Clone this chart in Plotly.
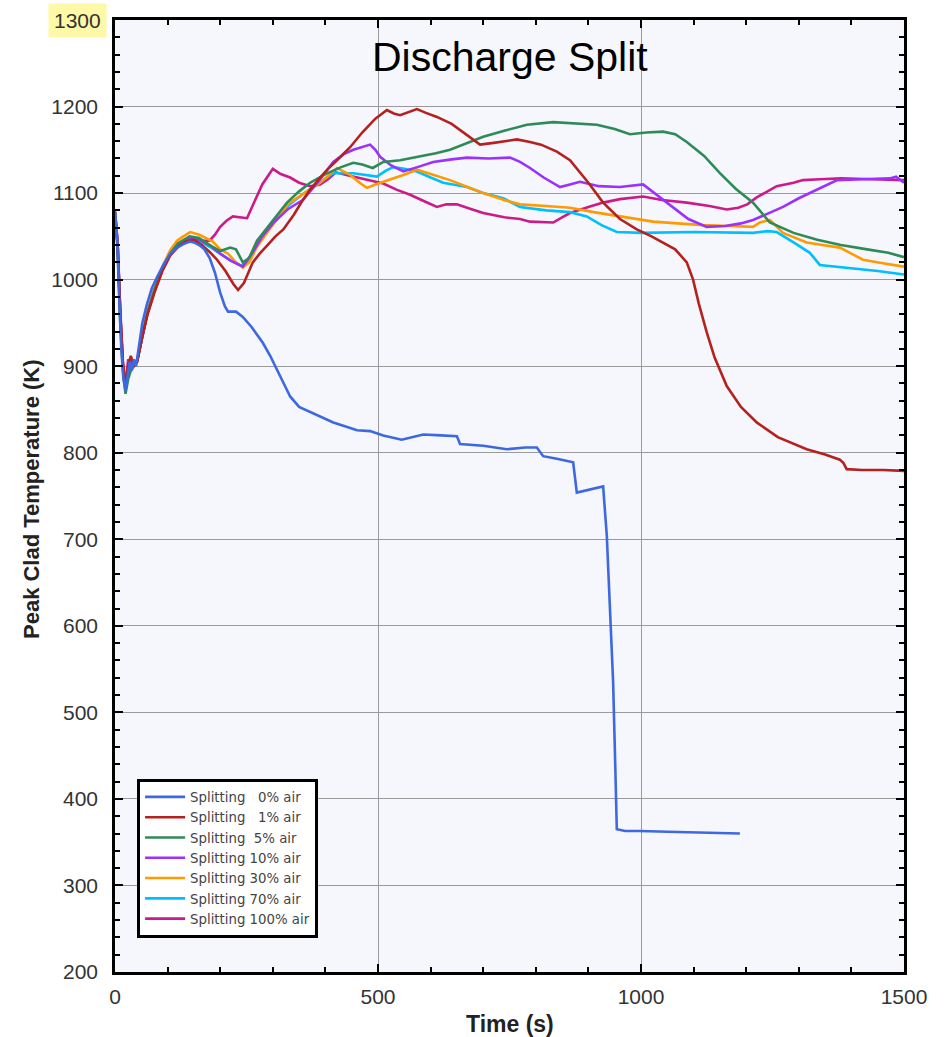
import plotly.graph_objects as go

# ---- data ----
t_0 = [0, 4, 8, 12, 16, 20, 24, 28, 32, 36, 40, 46, 52, 60, 70, 80, 92, 105, 118, 130, 142, 150,
       160, 170, 180, 190, 200, 209, 215, 230, 243, 260, 281, 295, 308, 320, 333, 350, 380, 415,
       440, 460, 485, 510, 545, 565, 586, 620, 650, 656, 700, 745, 780, 802, 814, 840, 871, 878,
       900, 928, 935, 941, 947, 951, 954, 970, 998, 1050, 1100, 1150, 1188]
T_0 = [1080, 1050, 980, 920, 885, 872, 890, 905, 895, 908, 900, 925, 950, 970, 990, 1003, 1017, 1030, 1037, 1041, 1044, 1043,
       1040, 1035, 1025, 1008, 985, 969, 963, 963, 957, 945, 927, 912, 896, 880, 865, 853, 845, 835,
       830, 826, 825, 820, 815, 818, 821, 820, 819, 810, 808, 804, 806, 806, 796, 793, 789, 754,
       757, 761, 704, 620, 535, 440, 365, 363, 363, 362, 361, 360, 360]

t_1 = [0, 5, 10, 15, 20, 25, 30, 36, 42, 52, 62, 75, 90, 105, 120, 135, 150, 165, 180, 194, 210, 225, 234,
       245, 262, 275, 290, 305, 320, 340, 355, 371, 390, 405, 422, 447, 470, 495, 517, 530, 542, 560, 574,
       590, 612, 640, 662, 694, 720, 764, 789, 810, 840, 865, 900, 928, 960, 992, 1020, 1042, 1065, 1087,
       1099, 1110, 1125, 1140, 1163, 1190, 1220, 1260, 1315, 1350, 1378, 1385, 1391, 1420, 1460, 1500]
T_1 = [1075, 1040, 965, 905, 878, 900, 912, 900, 905, 935, 960, 985, 1010, 1028, 1038, 1044, 1046, 1040, 1032, 1023, 1010, 995, 988,
       996, 1020, 1030, 1040, 1050, 1058, 1075, 1090, 1104, 1118, 1128, 1138, 1153, 1170, 1186, 1196, 1192, 1190, 1194, 1197,
       1193, 1188, 1180, 1170, 1156, 1158, 1162, 1159, 1156, 1148, 1138, 1112, 1089, 1070, 1058, 1050, 1043, 1035, 1020,
       1000, 972, 939, 910, 877, 853, 835, 818, 804, 798, 792, 788, 781, 780, 780, 779]

t_5 = [0, 5, 10, 15, 20, 25, 30, 36, 42, 52, 62, 75, 90, 105, 120, 142, 160, 180, 200, 219, 230, 243,
       255, 270, 290, 310, 327, 350, 371, 400, 430, 453, 470, 490, 510, 542, 580, 610, 637, 670, 700,
       740, 783, 833, 870, 916, 950, 979, 1010, 1042, 1065, 1087, 1120, 1150, 1180, 1213, 1245, 1290,
       1335, 1380, 1430, 1470, 1500]
T_5 = [1075, 1035, 950, 895, 868, 885, 895, 900, 905, 935, 962, 988, 1012, 1030, 1042, 1050, 1048, 1040, 1033, 1037, 1035, 1020,
       1025, 1045, 1060, 1075, 1089, 1102, 1112, 1122, 1130, 1135, 1133, 1129, 1136, 1138, 1142, 1146, 1150, 1158, 1165,
       1172, 1179, 1182, 1181, 1179, 1174, 1168, 1170, 1171, 1168, 1159, 1143, 1123, 1105, 1089, 1066, 1054,
       1046, 1040, 1035, 1031, 1026]

t_10 = [0, 5, 10, 15, 20, 25, 30, 36, 42, 52, 62, 75, 90, 105, 120, 142, 160, 180, 200, 220, 243, 260,
        280, 300, 330, 357, 385, 415, 435, 453, 470, 485, 495, 504, 525, 548, 575, 605, 640, 669, 710,
        751, 770, 789, 815, 846, 865, 884, 920, 960, 1004, 1030, 1061, 1090, 1125, 1160, 1190, 1213, 1240,
        1270, 1300, 1335, 1373, 1420, 1473, 1485, 1500]
T_10 = [1078, 1042, 960, 900, 875, 895, 905, 902, 906, 936, 962, 987, 1011, 1029, 1040, 1048, 1046, 1040, 1030, 1022, 1015, 1030,
        1050, 1065, 1082, 1092, 1112, 1136, 1145, 1150, 1153, 1156, 1150, 1142, 1132, 1125, 1130, 1136, 1139, 1141, 1140,
        1141, 1136, 1129, 1118, 1107, 1110, 1113, 1108, 1107, 1110, 1098, 1084, 1070, 1061, 1062, 1065, 1069, 1076,
        1084, 1094, 1104, 1115, 1116, 1117, 1119, 1112]

t_30 = [0, 5, 10, 15, 20, 25, 30, 36, 42, 52, 62, 75, 90, 105, 118, 130, 143, 160, 186, 200, 215, 230, 243,
        255, 270, 290, 310, 330, 360, 390, 422, 447, 465, 479, 495, 510, 548, 574, 600, 637, 670, 700,
        740, 770, 820, 865, 910, 960, 1023, 1070, 1118, 1170, 1213, 1226, 1245, 1270, 1315, 1345, 1378,
        1400, 1422, 1460, 1500]
T_30 = [1078, 1040, 958, 900, 876, 893, 903, 900, 906, 937, 964, 990, 1015, 1034, 1045, 1050, 1055, 1052, 1044, 1035, 1030, 1020, 1014,
        1020, 1038, 1055, 1072, 1088, 1100, 1112, 1129, 1121, 1112, 1106, 1110, 1113, 1121, 1127, 1122, 1115, 1107, 1100,
        1092, 1087, 1085, 1083, 1078, 1073, 1067, 1065, 1063, 1062, 1061, 1066, 1069, 1054, 1043, 1040, 1037,
        1030, 1023, 1019, 1015]

t_70 = [0, 5, 10, 15, 20, 25, 30, 36, 42, 52, 62, 75, 90, 105, 120, 142, 160, 180, 200, 220, 240,
        255, 270, 290, 310, 330, 360, 390, 415, 453, 475, 498, 515, 529, 550, 574, 600, 624, 669, 700,
        738, 770, 820, 865, 897, 925, 954, 1000, 1100, 1213, 1240, 1258, 1290, 1321, 1340, 1370, 1397,
        1450, 1500]
T_70 = [1078, 1041, 960, 902, 877, 894, 904, 901, 906, 936, 963, 988, 1012, 1031, 1041, 1047, 1045, 1038, 1030, 1022, 1016,
        1022, 1040, 1057, 1072, 1086, 1100, 1113, 1123, 1123, 1121, 1119, 1126, 1130, 1128, 1125, 1118, 1112, 1107, 1100,
        1094, 1084, 1080, 1078, 1073, 1063, 1055, 1054, 1055, 1054, 1056, 1055, 1043, 1031, 1017, 1015, 1014,
        1010, 1006]

t_100 = [0, 5, 10, 15, 20, 25, 30, 36, 42, 52, 62, 75, 90, 105, 120, 142, 160, 180, 190, 200, 212, 224, 240,
         251, 265, 280, 300, 315, 333, 350, 371, 390, 405, 420, 440, 466, 490, 510, 535, 561, 590, 612,
         630, 650, 675, 700, 740, 770, 789, 833, 850, 865, 900, 928, 960, 1004, 1040, 1087, 1130, 1163,
         1185, 1202, 1220, 1240, 1258, 1290, 1308, 1340, 1380, 1440, 1500]
T_100 = [1078, 1042, 962, 903, 878, 908, 900, 902, 906, 936, 962, 988, 1012, 1030, 1040, 1046, 1045, 1045, 1052, 1061, 1068, 1073, 1072,
         1071, 1090, 1110, 1128, 1122, 1118, 1112, 1108, 1110, 1116, 1124, 1121, 1117, 1114, 1111, 1104, 1098, 1090, 1084,
         1087, 1087, 1082, 1077, 1072, 1070, 1067, 1066, 1072, 1077, 1084, 1089, 1093, 1096, 1092, 1089, 1085, 1081,
         1083, 1087, 1095, 1102, 1108, 1112, 1115, 1116, 1117, 1116, 1115]

series_names = ["Splitting\u00a0\u00a0\u00a00% air", "Splitting\u00a0\u00a0\u00a01% air",
                "Splitting\u00a0\u00a05% air", "Splitting 10% air", "Splitting 30% air",
                "Splitting 70% air", "Splitting 100% air"]
series_t = [t_0, t_1, t_5, t_10, t_30, t_70, t_100]
series_T = [T_0, T_1, T_5, T_10, T_30, T_70, T_100]
colors = ["#3d68e0", "#b5211f", "#2e8b57", "#9b30ff", "#ff9a00", "#00bfff", "#cc1a88"]

x_ticks = [0, 500, 1000, 1500]
y_ticks = [200, 300, 400, 500, 600, 700, 800, 900, 1000, 1100, 1200]

fig = go.Figure()
# draw in reverse so the 0% curve sits on top; legend keeps the original order
for i in reversed(range(len(series_names))):
    fig.add_trace(go.Scatter(x=series_t[i], y=series_T[i], mode="lines", name=series_names[i],
                             line=dict(color=colors[i], width=2.6), legendrank=i + 1))

font_main = "Liberation Sans, Arial, sans-serif"
fig.update_layout(
    width=949, height=1037,
    margin=dict(l=115, r=45, t=20, b=65),
    paper_bgcolor="white",
    plot_bgcolor="#f5f7fc",
    font=dict(family=font_main, color="#333333"),
    showlegend=True,
    legend=dict(x=0.028, y=0.203, xanchor="left", yanchor="top",
                bgcolor="white", bordercolor="black", borderwidth=3,
                font=dict(size=13.3, color="#444444", family="DejaVu Sans, Verdana, sans-serif"),
                tracegroupgap=0, itemwidth=40),
    xaxis=dict(range=[0, 1500], tickvals=x_ticks, ticks="inside", ticklen=8, tickwidth=2,
               tickcolor="black", showline=True, linecolor="black", linewidth=2.5, mirror="ticks",
               showgrid=True, gridcolor="#9a9a9a", gridwidth=1, zeroline=False,
               tickfont=dict(size=21, color="#333333"), ticklabelstandoff=4,
               minor=dict(dtick=100, ticks="inside", ticklen=5, tickwidth=2, tickcolor="black", showgrid=False)),
    yaxis=dict(range=[200, 1300], tickvals=y_ticks, ticks="inside", ticklen=8, tickwidth=2,
               tickcolor="black", showline=True, linecolor="black", linewidth=2.5, mirror="ticks",
               showgrid=True, gridcolor="#9a9a9a", gridwidth=1, zeroline=False,
               tickfont=dict(size=21, color="#333333"), ticklabelstandoff=10,
               minor=dict(dtick=20, ticks="inside", ticklen=5, tickwidth=2, tickcolor="black", showgrid=False)),
)

fig.add_annotation(text="Discharge Split", xref="paper", yref="paper", x=0.5, y=0.961,
                   xanchor="center", yanchor="middle", showarrow=False,
                   font=dict(size=41, color="black", family=font_main))
fig.add_annotation(text="<b>Peak Clad Temperature (K)</b>", xref="paper", yref="paper",
                   x=-0.105, y=0.497, xanchor="center", yanchor="middle", textangle=-90,
                   showarrow=False, font=dict(size=22, color="#222222", family=font_main))
fig.add_annotation(text="<b>Time (s)</b>", xref="paper", yref="paper", x=0.5, y=-0.055,
                   xanchor="center", yanchor="middle", showarrow=False,
                   font=dict(size=23, color="#222222", family=font_main))
fig.add_annotation(text="1300", xref="paper", yref="y", x=0, y=1300, xshift=-8,
                   xanchor="right", yanchor="middle", showarrow=False,
                   bgcolor="#fdf9a6", borderpad=5,
                   font=dict(size=21, color="#333333", family=font_main))

fig.write_html("out.html")
